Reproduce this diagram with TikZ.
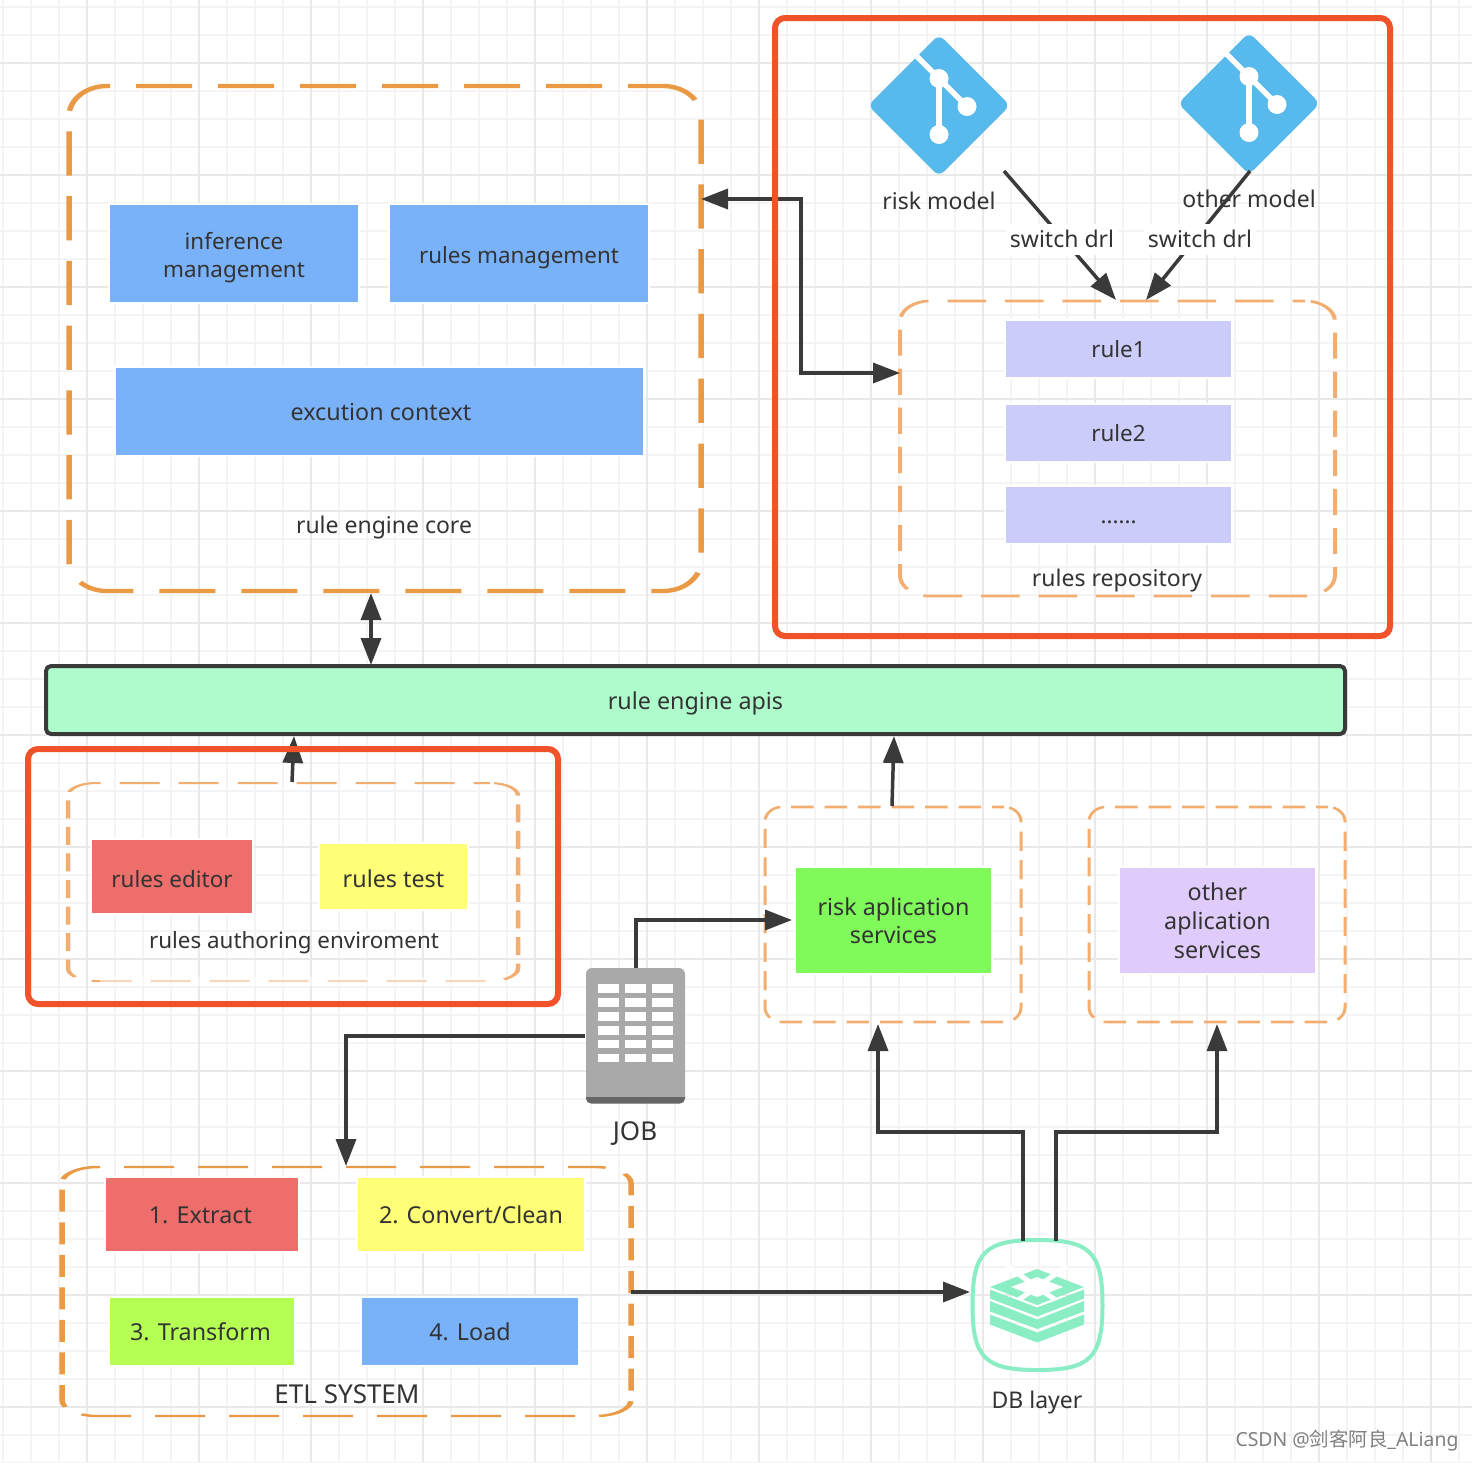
\documentclass[tikz,border=0pt]{standalone}
\usepackage{fontspec}
\setmainfont{Noto Sans}
\newfontfamily\cjkmark{Noto Sans CJK SC}
\usetikzlibrary{arrows.meta}
\definecolor{gridminor}{HTML}{F4F4F4}
\definecolor{gridmajor}{HTML}{E9E9E9}
\definecolor{textdark}{HTML}{333333}
\definecolor{linedark}{HTML}{3A3A3A}
\definecolor{framered}{HTML}{F0522A}
\definecolor{dashorange}{HTML}{EA9A45}
\definecolor{paleorange}{HTML}{F2AE70}
\definecolor{softblue}{HTML}{7AB2FA}
\definecolor{softviolet}{HTML}{CCCCFA}
\definecolor{softlilac}{HTML}{DFCCFA}
\definecolor{softred}{HTML}{EE6E6B}
\definecolor{softyellow}{HTML}{FFFF77}
\definecolor{softgreen}{HTML}{80FA5A}
\definecolor{softlime}{HTML}{B5FF55}
\definecolor{apigreen}{HTML}{AEFCCB}
\definecolor{gitblue}{HTML}{57B9EC}
\definecolor{dbgreen}{HTML}{8AEDC4}
\definecolor{jobgrey}{HTML}{A9A9A9}
\newcommand{\linestrut}{\rule[-3pt]{0pt}{23pt}}
\tikzset{
  >={Triangle[length=27pt,width=20pt]},
  box/.style={draw=white,line width=1.5pt,inner sep=0pt,outer sep=0pt,align=center,text=textdark,font=\fontsize{23.3}{28}\selectfont,execute at begin node=\linestrut,execute at end node=\linestrut},
  smalltext/.style={font=\fontsize{22.4}{28}\selectfont},
  textdown/.style={execute at begin node={\rule{0pt}{\dimexpr 20pt+#1*2\relax}}},
  tag/.style={inner sep=0pt,outer sep=0pt,text=textdark,font=\fontsize{23}{28}\selectfont,execute at begin node=\linestrut},
  zone/.style={draw=paleorange,inner sep=0pt,outer sep=0pt},
  redframe/.style={draw=framered,line width=6pt,rounded corners=10pt,inner sep=0pt,outer sep=0pt},
  flow/.style={draw=linedark,line width=3.5pt,->},
  gitmark/.pic={
    \fill[gitblue,rounded corners=7pt] (-71,0) -- (0,-71) -- (71,0) -- (0,71) -- cycle;
    \draw[white,line width=5.5pt] (-23,-50) -- (0,-27) -- (28,1);
    \draw[white,line width=5.5pt] (0,-27) -- (0,29);
    \fill[white] (0,-27) circle (9.5) (28,1) circle (9.5) (0,29) circle (9.5);
  }
}
\begin{document}
\begin{tikzpicture}[x=1pt,y=-1pt]
    \useasboundingbox (0,0) rectangle (1472,1462);
    \fill[white] (0,0) rectangle (1472,1462);

    \foreach \k in {0,...,52} {
      \draw[gridminor,line width=2pt] ({3+28*\k},0) -- ({3+28*\k},1462);
      \draw[gridminor,line width=2pt] (0,{7+28*\k}) -- (1472,{7+28*\k});
    }
    \foreach \k in {0,...,12} {
      \draw[gridmajor,line width=2pt] ({87+112*\k},0) -- ({87+112*\k},1462);
      \draw[gridmajor,line width=2pt] (0,{63+112*\k}) -- (1472,{63+112*\k});
    }

    \begin{scope}[transform canvas={yscale=0.79}]
      \node[zone,draw=dashorange,line width=5.5pt,rounded corners=38pt,dash pattern=on 56pt off 26pt,dash phase=21pt,minimum width=632,minimum height=505/0.79] (core) at (385,338.5/0.79) {};
    \end{scope}
    \begin{scope}[transform canvas={yscale=0.68}]
      \node[zone,line width=4pt,rounded corners=30pt,dash pattern=on 38.5pt off 19pt,dash phase=26pt,minimum width=435,minimum height=295/0.68] (repo) at (1117.5,448.5/0.68) {};
    \end{scope}
    \begin{scope}[transform canvas={yscale=0.45}]
      \node[zone,line width=4.5pt,rounded corners=28pt,dash pattern=on 40pt off 19pt,dash phase=23.5pt,minimum width=450,minimum height=198/0.45] (authoring) at (293,882/0.45) {};
    \end{scope}
    \fill[white,opacity=0.5] (100,977) rectangle (490,986);
    \begin{scope}[transform canvas={yscale=0.85}]
      \node[zone,line width=3pt,rounded corners=17pt,dash pattern=on 22.5pt off 11pt,dash phase=10.7pt,minimum width=256,minimum height=215/0.85] (riskzone) at (893,914.5/0.85) {};
      \node[zone,line width=3pt,rounded corners=17pt,dash pattern=on 22.5pt off 11pt,dash phase=10.7pt,minimum width=256,minimum height=215/0.85] (otherzone) at (1217,914.5/0.85) {};
    \end{scope}
    \begin{scope}[transform canvas={yscale=0.44}]
      \node[zone,draw=dashorange,line width=5.5pt,rounded corners=36pt,dash pattern=on 50pt off 24pt,dash phase=23pt,minimum width=569,minimum height=249/0.44] (etl) at (346.5,1291.5/0.44) {};
    \end{scope}

    \node[box,smalltext,text height=50pt,text depth=3pt,fill=softblue,minimum width=250,minimum height=99] (inference) at (234,253.5) {inference\\management};
    \node[box,smalltext,textdown=3pt,fill=softblue,minimum width=260,minimum height=99] (management) at (519,253.5) {rules management};
    \node[box,fill=softblue,minimum width=529,minimum height=89] (context) at (379.5,411.5) {\hspace*{3pt}excution context};
    \node[tag] (corename) at (384,526) {rule engine core};

    \node[box,smalltext,fill=softviolet,minimum width=227,minimum height=58] (ruleone) at (1118.5,349) {rule1};
    \node[box,smalltext,fill=softviolet,minimum width=227,minimum height=58] (ruletwo) at (1118.5,433) {rule2};
    \node[box,smalltext,fill=softviolet,minimum width=227,minimum height=58] (rulemore) at (1118.5,515) {......};
    \node[tag] (reponame) at (1117,579) {rules repository};

    \pic at (939,105.5) {gitmark};
    \pic at (1249,103.5) {gitmark};
    \coordinate (riskfoot) at (1004,171);
    \coordinate (otherfoot) at (1250,171);
    \node[tag] (riskname) at (939,201) {risk model};
    \node[tag] (othername) at (1249,199) {other model};

    \node[box,textdown=2pt,draw=linedark,line width=4pt,rounded corners=5pt,fill=apigreen,minimum width=1299,minimum height=68] (apis) at (695.5,700) {rule engine apis};

    \node[box,smalltext,textdown=2pt,fill=softred,minimum width=162,minimum height=75] (editor) at (172,876.5) {rules editor};
    \node[box,textdown=2pt,fill=softyellow,minimum width=149,minimum height=67] (ruletest) at (393.5,876.5) {rules test};
    \node[tag,font=\fontsize{22.4}{28}\selectfont] (authoringname) at (294,941) {rules authoring enviroment};

    \node[box,text height=48pt,text depth=3pt,fill=softgreen,minimum width=197,minimum height=107] (riskapp) at (893.5,920.5) {risk aplication\\services};
    \node[box,text height=78pt,text depth=3pt,fill=softlilac,minimum width=197,minimum height=107] (otherapp) at (1217.5,920.5) {other\\[1pt]aplication\\[1pt]services};

    \node[rounded corners=6pt,fill=jobgrey,inner sep=0pt,outer sep=0pt,minimum width=99,minimum height=135] (job) at (635.5,1035.5) {};
    \fill[black!60,rounded corners=5pt] (586,1090) rectangle (685,1103.5);
    \fill[jobgrey] (586,1085) rectangle (685,1097);
    \foreach \jx in {598,625,652} {
      \foreach \jy in {984,998,1012,1026,1039.5,1053.5} {
        \fill[white] (\jx,\jy) rectangle (\jx+20.5,\jy+8.5);
      }
    }
    \node[tag,font=\fontsize{26}{28}\selectfont] (jobname) at (635,1133) {JOB};

    \node[box,fill=softred,minimum width=194,minimum height=75] (extract) at (202,1214.5) {1. Extract\hspace*{3pt}};
    \node[box,fill=softyellow,minimum width=228,minimum height=75] (convert) at (471,1214.5) {2. Convert/Clean};
    \node[box,fill=softlime,minimum width=186,minimum height=69] (transform) at (202,1331.5) {3. Transform\hspace*{3pt}};
    \node[box,fill=softblue,minimum width=218,minimum height=69] (load) at (470,1331.5) {4. Load};
    \node[tag,font=\fontsize{26}{28}\selectfont] (etlname) at (347,1395) {ETL SYSTEM};

    \draw[dbgreen,line width=4pt] (1037.5,1240) .. controls (1090,1240) and (1102.5,1252) .. (1102.5,1305) .. controls (1102.5,1358) and (1090,1370) .. (1037.5,1370) .. controls (985,1370) and (972.5,1358) .. (972.5,1305) .. controls (972.5,1252) and (985,1240) .. cycle;
    \fill[dbgreen] (990,1287) -- (1037,1269) -- (1084,1287) -- (1037,1305) -- cycle;
    \fill[white] (1011,1287) -- (1037,1277) -- (1063,1287) -- (1037,1297) -- cycle;
    \draw[white,line width=5pt] (1037,1287) -- (1007,1266) (1037,1287) -- (1067,1266) (1037,1287) -- (1007,1308) (1037,1287) -- (1067,1308);
    \fill[dbgreen] (990,1289.5) -- (1037.3,1307.5) -- (1084,1289.5) -- (1084,1298.5) -- (1037.3,1316.5) -- (990,1298.5) -- cycle;
    \fill[dbgreen] (990,1301) -- (1037.3,1319.5) -- (1084,1301) -- (1084,1311.5) -- (1037.3,1329) -- (990,1311.5) -- cycle;
    \fill[dbgreen] (990,1314.5) -- (1037.3,1332.5) -- (1084,1314.5) -- (1084,1324.5) -- (1037.3,1342.5) -- (990,1324.5) -- cycle;
    \coordinate (dbleft) at (1023,1241);
    \coordinate (dbright) at (1056,1241);
    \coordinate (dbport) at (970,1292);
    \node[tag] (dbname) at (1037,1401) {DB layer};

    \coordinate (coreport) at (701,199);
    \coordinate (repoport) at (900,373);
    \coordinate (coreapi) at (371,593);
    \coordinate (apicore) at (371,665);
    \coordinate (riskin) at (1116,300);
    \coordinate (otherin) at (1146,300);
    \coordinate (authoringout) at (292,782);
    \coordinate (apiauthoring) at (294,736);
    \coordinate (riskout) at (892,806);
    \coordinate (apirisk) at (894,736);
    \coordinate (jobtop) at (636,968);
    \coordinate (riskappin) at (792,920);
    \coordinate (jobside) at (585,1036);
    \coordinate (etlin) at (346,1166);
    \coordinate (etlout) at (631,1292);
    \coordinate (riskbase) at (878,1024);
    \coordinate (otherbase) at (1217,1024);

    \draw[flow,<->] (coreport) -- ++(100,0) |- (repoport);
    \draw[flow] (riskfoot) -- (riskin);
    \draw[flow] (otherfoot) -- (otherin);
    \node[tag,fill=white,inner sep=4pt] (switchleft) at (1062,239) {switch drl};
    \node[tag,fill=white,inner sep=4pt] (switchright) at (1200,239) {switch drl};
    \draw[flow,<->] (coreapi) -- (apicore);
    \draw[flow] (authoringout) -- (apiauthoring);
    \draw[flow] (riskout) -- (apirisk);
    \draw[flow] (jobtop) |- (riskappin);
    \draw[flow] (jobside) -| (etlin);
    \draw[flow] (etlout) -- (dbport);
    \draw[flow] (dbleft) -- ++(0,-109) -| (riskbase);
    \draw[flow] (dbright) -- ++(0,-109) -| (otherbase);

    \node[redframe,minimum width=615,minimum height=618] (frameright) at (1082.5,327) {};
    \node[redframe,minimum width=530,minimum height=255] (frameleft) at (293,876.5) {};

    \node[inner sep=0pt,text=black!50,font=\fontsize{19.4}{25}\selectfont] (mark) at (1347,1441) {CSDN @{\cjkmark 剑客阿良}\_ALiang};
\end{tikzpicture}
\end{document}
